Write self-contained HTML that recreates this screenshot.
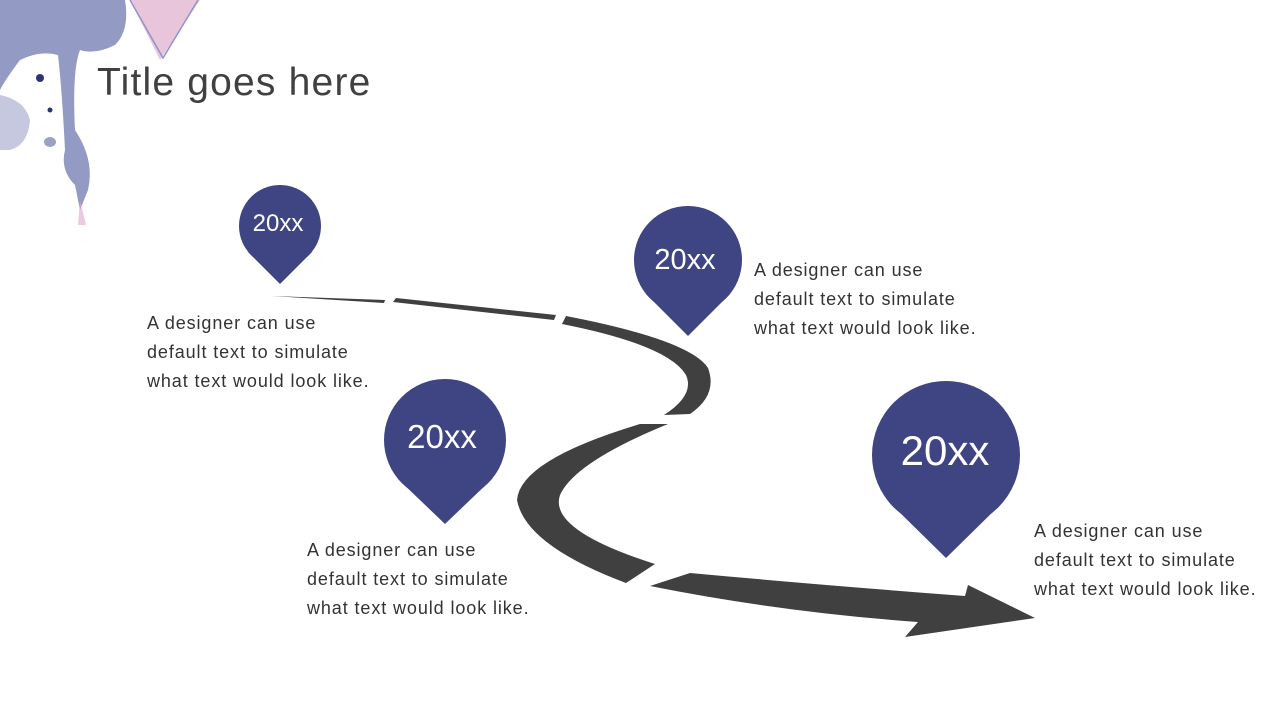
<!DOCTYPE html>
<html><head><meta charset="utf-8"><style>
body{margin:0;width:1280px;height:720px;overflow:hidden;background:#fff;font-family:"Liberation Sans",sans-serif;position:relative}
.t{position:absolute;font-size:18px;line-height:29px;color:#333;letter-spacing:0.9px}
</style></head><body>
<svg width="1280" height="720" style="position:absolute;left:0;top:0">
<!-- watercolor -->
<polygon points="130,0 200,0 160,60" fill="#e9c5dc"/>
<polyline points="130,0 163,58 198,0" fill="none" stroke="#8f95c6" stroke-width="1.5"/>
<path d="M0,0 H125 Q130,30 115,45 Q95,55 80,50 Q72,70 75,130 Q95,160 88,190 L80,210 L75,185 Q60,170 65,150 Q62,90 58,55 Q40,50 20,60 Q5,80 0,90Z" fill="#4b579b" opacity="0.6"/>
<path d="M0,95 Q25,100 30,120 Q28,145 10,150 L0,150Z" fill="#8d92c0" opacity="0.5"/>
<ellipse cx="50" cy="142" rx="6" ry="5" fill="#5a63a0" opacity="0.6"/>
<circle cx="40" cy="78" r="4" fill="#2c3478"/><circle cx="50" cy="110" r="2.5" fill="#2c3478"/>
<path d="M80,200 L86,225 L78,225Z" fill="#d8a8c8" opacity="0.6"/>
<!-- road -->
<g fill="#404040">
<path d="M272,296 L385,300 L384,303 Z"/>
<path d="M396,298 L556,315 L554,320 L393,302Z"/>
<path d="M566,316 Q690,340 708,368 Q718,395 690,414 L664,415 Q695,395 686,375 Q668,345 562,324Z"/>
<path d="M640,424 L668,424 Q575,462 560,495 Q548,530 655,564 L626,583 Q525,545 517,500 Q520,460 640,424Z"/>
<path d="M650,586 L690,573 Q820,585 965,596 L968,585 L1035,618 L905,637 L918,622 Q780,612 650,586Z"/>
</g>
<!-- pins -->
<g fill="#3f4482">
<circle cx="280" cy="226" r="41"/><path d="M248,252 L280,284 L312,252Z"/>
<circle cx="688" cy="260" r="54"/><path d="M646,294 L688,336 L730,294Z"/>
<circle cx="445" cy="440" r="61"/><path d="M398,479 L445,524 L492,479Z"/>
<circle cx="946" cy="455" r="74"/><path d="M889,502 L946,558 L1003,502Z"/>
</g>
<g fill="#fff" font-family="Liberation Sans,sans-serif" text-anchor="middle">
<text x="278" y="231" font-size="24">20xx</text>
<text x="685" y="269" font-size="29">20xx</text>
<text x="442" y="448" font-size="33">20xx</text>
<text x="945" y="465" font-size="42">20xx</text>
</g>
<text x="97" y="95" font-size="39" letter-spacing="1.2" fill="#404040" font-family="Liberation Sans,sans-serif">Title goes here</text>
</svg>
<div class="t" style="left:147px;top:309px">A designer can use<br>default text to simulate<br>what text would look like.</div>
<div class="t" style="left:754px;top:256px">A designer can use<br>default text to simulate<br>what text would look like.</div>
<div class="t" style="left:307px;top:536px">A designer can use<br>default text to simulate<br>what text would look like.</div>
<div class="t" style="left:1034px;top:517px">A designer can use<br>default text to simulate<br>what text would look like.</div>
</body></html>
